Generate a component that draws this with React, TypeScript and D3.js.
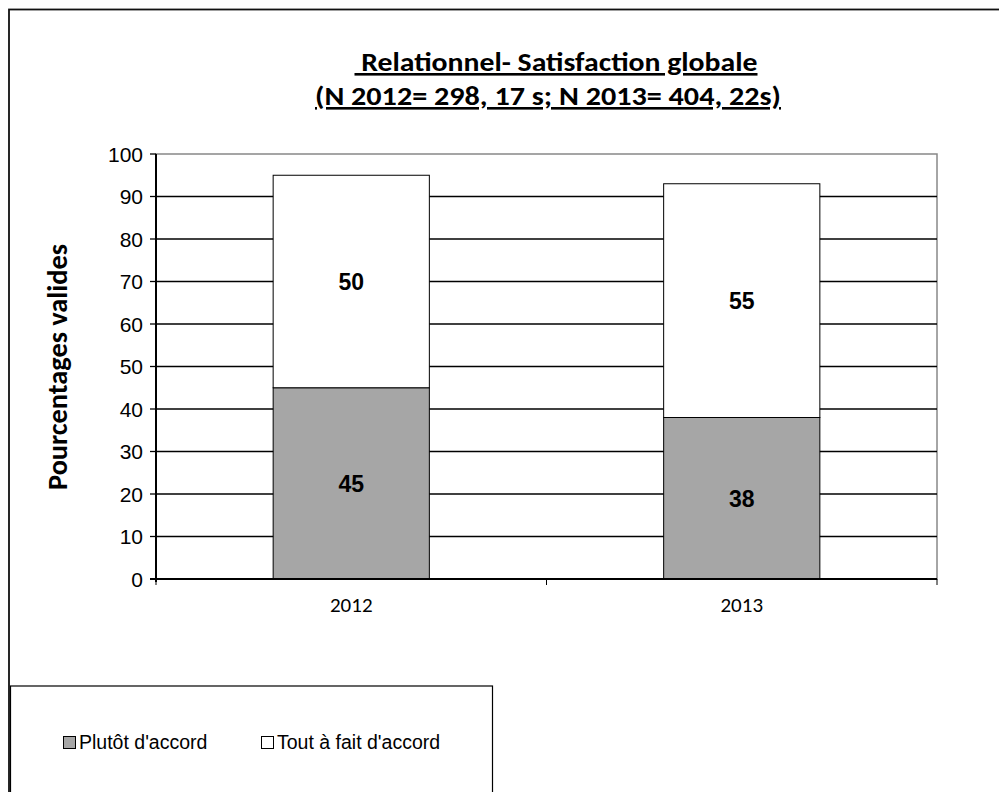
import React from "react";
import * as d3 from "d3";

const years = ["2012", "2013"];
const plutotDaccord = [45, 38];
const toutAFait = [50, 55];
const seriesNames = ["Plutôt d'accord", "Tout à fait d'accord"];
const yTicks = [0, 10, 20, 30, 40, 50, 60, 70, 80, 90, 100];
const titleLines = [" Relationnel- Satisfaction globale", "(N 2012= 298, 17 s; N 2013= 404, 22s)"];
const yAxisTitle = "Pourcentages valides";

const W = 999;
const H = 792;
const plot = { left: 156, right: 937, top: 154, bottom: 579 };
const GRAY = "#a6a6a6";

export default function App() {
  const x = d3
    .scaleBand<string>()
    .domain(years)
    .range([plot.left, plot.right])
    .paddingInner(0.6)
    .paddingOuter(0.3);
  const y = d3.scaleLinear().domain([0, 100]).range([plot.bottom, plot.top]);

  const stacked = d3
    .stack<{ year: string; a: number; b: number }>()
    .keys(["a", "b"])(years.map((yr, i) => ({ year: yr, a: plutotDaccord[i], b: toutAFait[i] })));
  const fills = [GRAY, "#ffffff"];

  const catBoundaries = [plot.left, (plot.left + plot.right) / 2, plot.right];
  const calibri = "Carlito, Calibri, Lato, 'Open Sans', sans-serif";
  const arial = "Arial, 'Liberation Sans', sans-serif";
  const titleWidths = [403, 466];
  const titleCenters = [556, 548];

  return (
    <svg width={W} height={H} style={{ position: "absolute", left: 0, top: 0, background: "#fff" }}>
      {/* outer chart frame */}
      <rect x={9} y={9.5} width={1100} height={900} fill="#fff" stroke="#111" strokeWidth={1.8} />

      {/* title */}
      {titleLines.map((t, i) => (
        <text
          key={i}
          x={titleCenters[i]}
          y={71 + i * 34}
          textAnchor="middle"
          fontFamily={calibri}
          fontWeight="bold"
          fontSize={26}
          textLength={titleWidths[i]}
          lengthAdjust="spacingAndGlyphs"
          textDecoration="underline"
          style={{ whiteSpace: "pre" }}
          fill="#000"
        >
          {t}
        </text>
      ))}

      {/* plot frame */}
      <rect
        x={plot.left}
        y={plot.top}
        width={plot.right - plot.left}
        height={plot.bottom - plot.top}
        fill="none"
        stroke="#888"
        strokeWidth={1.5}
      />

      {/* gridlines */}
      {yTicks.slice(1, -1).map((t) => (
        <line key={t} x1={plot.left} x2={plot.right} y1={y(t)} y2={y(t)} stroke="#000" strokeWidth={1.3} />
      ))}

      {/* stacked bars */}
      {stacked.map((layer, li) =>
        layer.map((d, i) => (
          <rect
            key={`${li}-${i}`}
            x={x(years[i])!}
            y={y(d[1])}
            width={x.bandwidth()}
            height={y(d[0]) - y(d[1])}
            fill={fills[li]}
            stroke="#000"
            strokeWidth={1}
          />
        ))
      )}

      {/* value labels */}
      {stacked.map((layer, li) =>
        layer.map((d, i) => (
          <text
            key={`l${li}-${i}`}
            x={x(years[i])! + x.bandwidth() / 2}
            y={y((d[0] + d[1]) / 2)}
            dy="0.36em"
            textAnchor="middle"
            fontFamily={arial}
            fontWeight="bold"
            fontSize={23}
          >
            {d[1] - d[0]}
          </text>
        ))
      )}

      {/* y axis */}
      <line x1={plot.left} x2={plot.left} y1={plot.top} y2={plot.bottom + 3} stroke="#000" strokeWidth={2} />
      {yTicks.map((t) => (
        <g key={t}>
          <line x1={plot.left - 6} x2={plot.left} y1={y(t)} y2={y(t)} stroke="#000" strokeWidth={1.3} />
          <text x={143} y={y(t)} dy="0.36em" textAnchor="end" fontFamily={arial} fontSize={21} fill="#000">
            {t}
          </text>
        </g>
      ))}

      {/* x axis */}
      <line x1={plot.left - 6} x2={plot.right} y1={plot.bottom} y2={plot.bottom} stroke="#000" strokeWidth={2.2} />
      {catBoundaries.map((bx, i) => (
        <line key={i} x1={bx} x2={bx} y1={plot.bottom} y2={plot.bottom + 6} stroke="#000" strokeWidth={1} />
      ))}
      {years.map((yr) => (
        <text
          key={yr}
          x={x(yr)! + x.bandwidth() / 2}
          y={612}
          textAnchor="middle"
          fontFamily={calibri}
          fontSize={21}
          fill="#000"
        >
          {yr}
        </text>
      ))}

      {/* y axis title */}
      <text
        transform={`translate(67, 367) rotate(-90)`}
        textAnchor="middle"
        fontFamily={calibri}
        fontWeight="bold"
        fontSize={28}
        textLength={246}
        lengthAdjust="spacingAndGlyphs"
        fill="#000"
      >
        {yAxisTitle}
      </text>

      {/* legend */}
      <rect x={10.5} y={686} width={482} height={200} fill="#fff" stroke="#000" strokeWidth={1.2} />
      {seriesNames.map((name, i) => {
        const lx = [63, 261][i];
        return (
          <g key={name}>
            <rect x={lx + 0.5} y={736.5} width={12} height={12} fill={fills[i]} stroke="#000" strokeWidth={1} />
            <text x={lx + 16} y={749} fontFamily={arial} fontSize={19.5} fill="#000">
              {name}
            </text>
          </g>
        );
      })}
    </svg>
  );
}
